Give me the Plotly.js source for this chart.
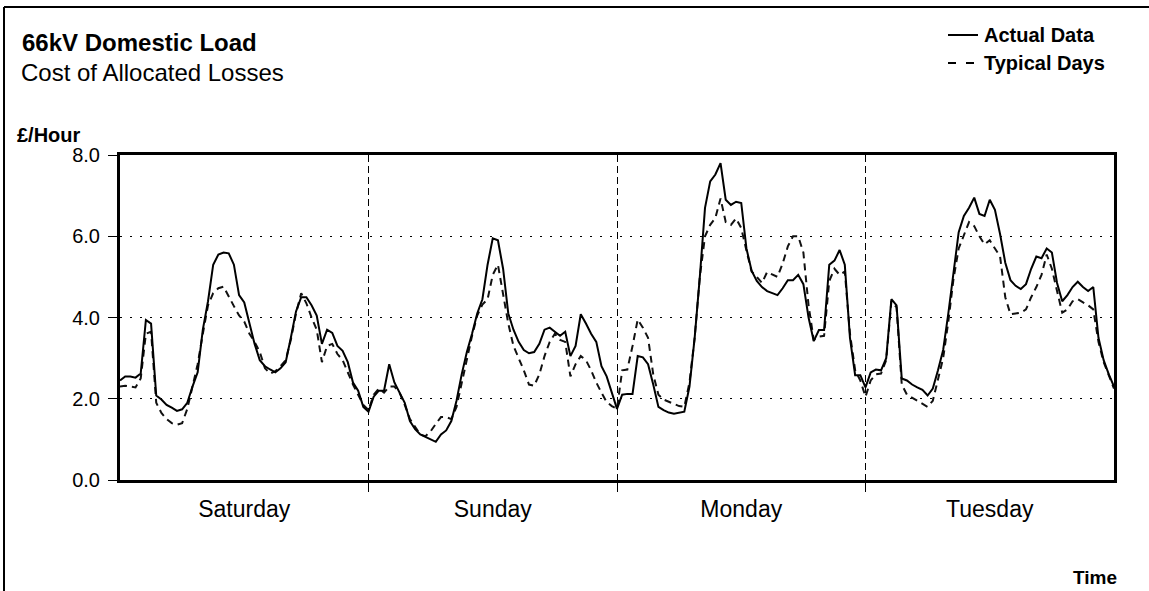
<!DOCTYPE html>
<html>
<head>
<meta charset="utf-8">
<script src="https://cdn.plot.ly/plotly-3.0.1.min.js"></script>
<style>html,body{margin:0;padding:0;background:#fff;}#chart{width:1149px;height:591px;}</style>
</head>
<body>
<div id="chart"></div>
<script>
// Half-hourly values, £/Hour
const dayNames = ["Saturday", "Sunday", "Monday", "Tuesday"];
const dayCentres = [12, 36, 60, 84];
const dayBoundaries = [24, 48, 72];
const yTicks = [0, 2, 4, 6, 8];

const satActual = [2.45,2.55,2.55,2.52,2.62,3.94,3.85,2.08,1.98,1.85,1.78,1.70,1.74,1.90,2.30,2.65,3.70,4.40,5.30,5.55,5.60,5.58,5.30,4.55,4.37,3.85,3.35,2.95,2.80,2.72,2.65,2.75,2.90,3.50,4.15,4.50,4.50,4.30,4.05,3.35,3.70,3.62,3.30,3.18,2.90,2.40,2.20,1.80];
const sunActual = [1.68,2.05,2.20,2.20,2.85,2.40,2.15,1.90,1.45,1.25,1.12,1.06,0.98,0.94,1.12,1.22,1.45,1.95,2.60,3.15,3.60,4.10,4.45,5.30,5.95,5.90,5.20,4.10,3.70,3.40,3.20,3.12,3.15,3.35,3.70,3.75,3.65,3.55,3.65,3.05,3.30,4.08,3.85,3.60,3.40,2.80,2.55,2.15];
const monActual = [1.75,2.10,2.12,2.12,3.05,3.02,2.85,2.35,1.80,1.72,1.66,1.63,1.66,1.68,2.30,3.50,5.00,6.70,7.35,7.52,7.80,6.90,6.77,6.85,6.82,5.70,5.15,4.90,4.75,4.65,4.60,4.55,4.72,4.92,4.92,5.05,4.82,4.00,3.42,3.69,3.69,5.30,5.40,5.66,5.30,3.50,2.58,2.58];
const tueActual = [2.28,2.65,2.72,2.70,3.00,4.45,4.30,2.50,2.45,2.35,2.28,2.22,2.08,2.25,2.70,3.20,4.10,5.15,6.10,6.50,6.70,6.95,6.55,6.50,6.90,6.65,6.05,5.35,4.92,4.78,4.70,4.82,5.20,5.50,5.46,5.70,5.60,4.85,4.40,4.55,4.75,4.88,4.75,4.65,4.75,3.50,2.95,2.60,2.30];

const satTypical = [2.30,2.32,2.30,2.28,2.50,3.60,3.65,1.90,1.65,1.50,1.40,1.36,1.40,1.75,2.30,2.85,3.60,4.30,4.60,4.72,4.76,4.50,4.28,4.05,3.90,3.60,3.40,3.15,2.75,2.62,2.68,2.80,2.95,3.45,4.10,4.60,4.35,4.00,3.70,2.90,3.30,3.35,3.10,2.95,2.65,2.35,2.10,1.85];
const sunTypical = [1.72,2.10,2.25,2.15,2.30,2.30,2.15,1.85,1.50,1.30,1.12,1.08,1.20,1.38,1.55,1.55,1.50,1.80,2.40,3.00,3.55,4.05,4.32,4.45,5.05,5.30,4.60,3.85,3.30,3.00,2.70,2.35,2.32,2.60,3.05,3.40,3.60,3.45,3.40,2.55,2.85,3.05,2.95,2.70,2.40,2.15,1.92,1.82];
const monTypical = [1.75,2.70,2.72,3.30,3.95,3.75,3.50,2.60,2.10,1.98,1.93,1.88,1.82,1.80,2.40,3.50,5.00,6.00,6.28,6.45,6.93,6.35,6.28,6.44,6.20,5.65,5.13,5.00,4.85,5.12,5.05,5.00,5.33,5.75,6.00,6.00,5.60,4.30,3.45,3.53,3.55,4.90,5.20,5.05,5.13,3.60,2.70,2.45];
const tueTypical = [2.05,2.45,2.60,2.62,2.95,4.40,4.25,2.35,2.10,2.02,1.95,1.88,1.80,1.95,2.50,3.00,3.90,4.95,5.70,6.05,6.35,6.25,6.00,5.80,5.90,5.70,5.50,4.50,4.08,4.10,4.12,4.20,4.50,4.75,5.05,5.55,5.20,4.65,4.12,4.20,4.40,4.45,4.38,4.30,4.20,3.40,2.90,2.55,2.25];

const actual = [].concat(satActual, sunActual, monActual, tueActual);
const typical = [].concat(satTypical, sunTypical, monTypical, tueTypical);
const timeHours = actual.map((_, i) => i * 0.5);

const FONT = "Liberation Sans, Arial, Helvetica, sans-serif";
const W = 1149, H = 591, L = 120, R = 35, T = 155, B = 111;
const pw = W - L - R, ph = H - T - B;
const px = x => (x - L) / pw;          // pixel -> paper x
const py = y => (H - B - y) / ph;      // pixel -> paper y

const traces = [
  {x: timeHours, y: typical, type: "scatter", mode: "lines", name: "Typical Days",
   line: {color: "#111", width: 2, dash: "7px,5px"}, showlegend: false, hoverinfo: "skip"},
  {x: timeHours, y: actual, type: "scatter", mode: "lines", name: "Actual Data",
   line: {color: "#000", width: 2}, showlegend: false, hoverinfo: "skip"}
];

const layout = {
  width: W, height: H,
  margin: {l: L, r: R, t: T, b: B, pad: 0},
  paper_bgcolor: "#fff", plot_bgcolor: "#fff",
  font: {family: FONT, color: "#000"},
  title: {text: "<b>66kV Domestic Load</b>", font: {family: FONT, size: 24, color: "#000"},
          xref: "container", yref: "container", x: 22 / W, xanchor: "left", y: 1 - 43 / H, yanchor: "middle"},
  xaxis: {
    range: [0, 96], fixedrange: true,
    tickmode: "array", tickvals: dayCentres, ticktext: dayNames,
    ticks: "", showgrid: false, zeroline: false,
    tickfont: {family: FONT, size: 23, color: "#000"}, ticklabelstandoff: 6,
    showline: true, mirror: true, linewidth: 3, linecolor: "#000",
    minor: {tickmode: "array", tickvals: dayBoundaries, ticks: "outside", ticklen: 9, tickwidth: 1, tickcolor: "#000",
            showgrid: true, gridcolor: "#000", gridwidth: 1, griddash: "7px,4px"}
  },
  yaxis: {
    range: [0, 8], fixedrange: true,
    tickmode: "array", tickvals: yTicks, tickformat: ".1f",
    ticks: "outside", ticklen: 9, tickwidth: 1, tickcolor: "#000",
    tickfont: {family: FONT, size: 20, color: "#000"}, ticklabelstandoff: 4,
    showgrid: true, gridcolor: "#000", gridwidth: 1, griddash: "2px,8px", zeroline: false,
    showline: true, mirror: true, linewidth: 3, linecolor: "#000"
  },
  shapes: [
    {type: "line", xref: "paper", yref: "paper", x0: px(4), x1: px(4), y0: py(7), y1: py(H + 2), line: {color: "#000", width: 2}},
    {type: "line", xref: "paper", yref: "paper", x0: px(4), x1: px(W + 2), y0: py(7), y1: py(7), line: {color: "#000", width: 2}},
    {type: "line", xref: "paper", yref: "paper", x0: px(948), x1: px(978), y0: py(35), y1: py(35), line: {color: "#000", width: 2}},
    {type: "line", xref: "paper", yref: "paper", x0: px(948), x1: px(974), y0: py(63), y1: py(63), line: {color: "#000", width: 2, dash: "8px,10px"}}
  ],
  annotations: [
    {text: "Cost of Allocated Losses", xref: "paper", yref: "paper", x: px(19), y: py(72), xanchor: "left", yanchor: "middle",
     showarrow: false, font: {family: FONT, size: 24, color: "#000"}},
    {text: "<b>£/Hour</b>", xref: "paper", yref: "paper", x: px(15), y: py(135), xanchor: "left", yanchor: "middle",
     showarrow: false, font: {family: FONT, size: 20, color: "#000"}},
    {text: "<b>Actual Data</b>", xref: "paper", yref: "paper", x: px(982), y: py(35), xanchor: "left", yanchor: "middle",
     showarrow: false, font: {family: FONT, size: 20, color: "#000"}},
    {text: "<b>Typical Days</b>", xref: "paper", yref: "paper", x: px(982), y: py(63), xanchor: "left", yanchor: "middle",
     showarrow: false, font: {family: FONT, size: 20, color: "#000"}},
    {text: "<b>Time</b>", xref: "paper", yref: "paper", x: px(1119), y: py(577), xanchor: "right", yanchor: "middle",
     showarrow: false, font: {family: FONT, size: 19, color: "#000"}}
  ]
};

Plotly.newPlot("chart", traces, layout, {displayModeBar: false, staticPlot: true});
</script>
</body>
</html>
